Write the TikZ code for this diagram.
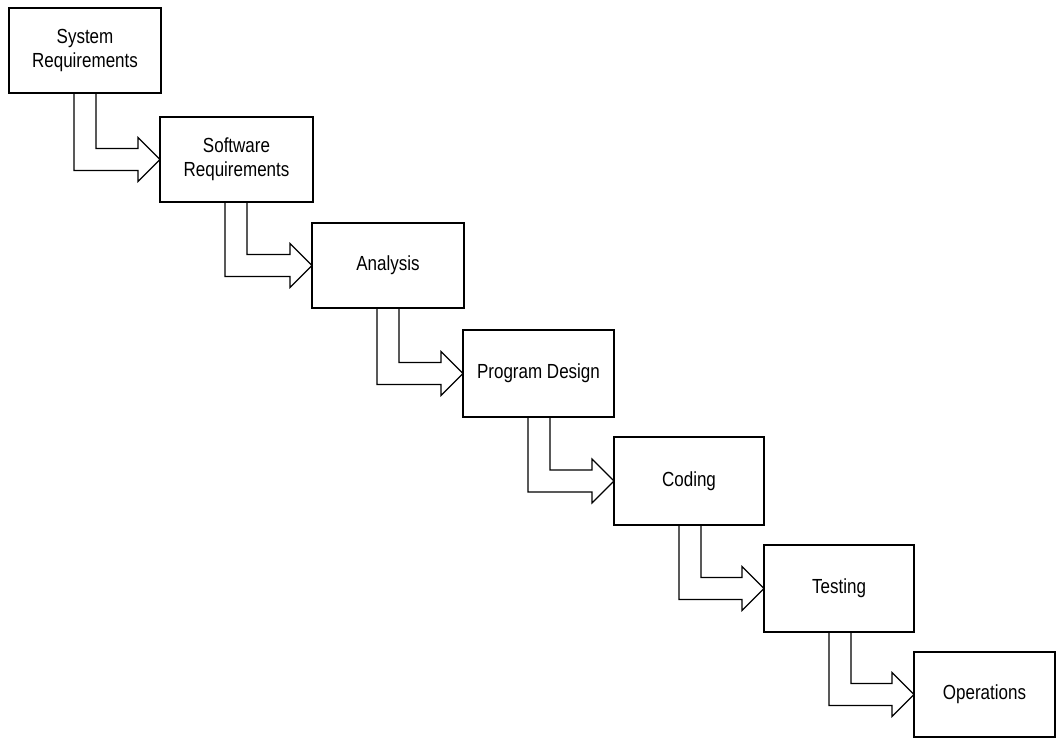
\documentclass[tikz,border=0pt]{standalone}
\usepackage{fontspec}
\usepackage{graphicx}
\setmainfont{Liberation Sans}
\usetikzlibrary{calc}

% labels are set slightly narrow and tall
\newcommand\tall[1]{\scalebox{1}[1.2]{#1}}

\tikzset{
  stage/.style={draw=black, line width=1.3pt, fill=white, anchor=north west,
    inner sep=0pt, outer sep=0pt, align=center,
    font=\fontsize{17}{24}\selectfont},
  flow/.style={draw=black, line width=1.1pt, line join=miter}
}

% hollow bent arrow from the bottom of #1 to the left side of #2
\newcommand\stepflow[2]{%
  \draw[flow] ($(#1.south west)+(65,0)$) |- ($(#2.west)+(-22,-11)$)
    -- ++(0,-11) -- (#2.west) -- ($(#2.west)+(-22,22)$) -- ++(0,-11)
    -| ($(#1.south west)+(87,0)$);%
}

\begin{document}
\begin{tikzpicture}[x=1pt,y=1pt]
  \useasboundingbox (0,0) rectangle (1057,-740);

  \node[stage, minimum width=152, minimum height=85] (sysreq) at (9,-8)
    {\tall{System}\\\tall{Requirements}};
  \node[stage, minimum width=153, minimum height=85] (swreq) at (160,-117)
    {\tall{Software}\\\tall{Requirements}};
  \node[stage, minimum width=152, minimum height=85] (analysis) at (312,-223)
    {\tall{Analysis}};
  \node[stage, minimum width=151, minimum height=87] (design) at (463,-330)
    {\tall{Program Design}};
  \node[stage, minimum width=150, minimum height=88] (coding) at (614,-437)
    {\tall{Coding}};
  \node[stage, minimum width=150, minimum height=87] (testing) at (764,-545)
    {\tall{Testing}};
  \node[stage, minimum width=141, minimum height=85] (ops) at (914,-652)
    {\tall{Operations}};

  \stepflow{sysreq}{swreq}
  \stepflow{swreq}{analysis}
  \stepflow{analysis}{design}
  \stepflow{design}{coding}
  \stepflow{coding}{testing}
  \stepflow{testing}{ops}
\end{tikzpicture}
\end{document}
